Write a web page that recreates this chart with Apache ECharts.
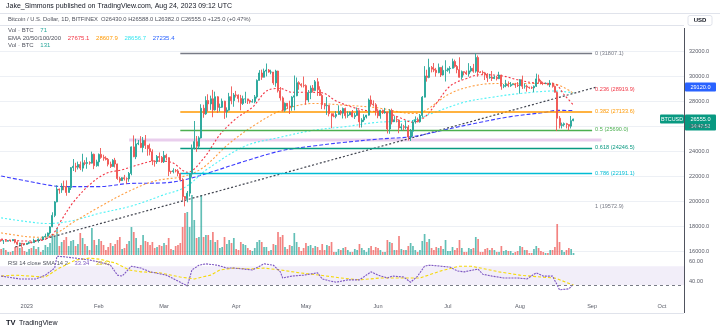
<!DOCTYPE html>
<html><head><meta charset="utf-8">
<script src="https://cdn.jsdelivr.net/npm/echarts@6/dist/echarts.min.js"></script>
<style>html,body{margin:0;padding:0;background:#fff}#c{width:720px;height:332px}</style>
</head><body><div id="c"></div>
<script>
// ---------- DATA ----------
const startDate = [2022, 11, 21];   // first category (UTC y, m0, d)
const dayCount = 294;
const tickDates  = ['2023-01-01','2023-02-01','2023-03-01','2023-04-01','2023-05-01','2023-06-01','2023-07-01','2023-08-01','2023-09-01','2023-10-01'];
const tickLabels = ['2023','Feb','Mar','Apr','May','Jun','Jul','Aug','Sep','Oct'];
const firstOpen = 16900;
const closes = [
16820,16830,16780,16840,16830,16920,16710,16540,16630,16600,16540,
16620,16680,16670,16850,16830,16950,16940,17130,17180,17440,17940,18850,19930,20950,20880,21170,21160,20680,21070,22670,22780,22710,22920,22630,23060,23010,23080,23030,23740,22830,23130,
23730,23490,23430,23330,22940,22760,23260,22960,21800,21630,21860,21790,21770,22200,24330,23540,24570,24630,24280,24840,24450,24190,23950,23200,23150,23560,23490,23140,
23650,23470,22360,22350,22430,22410,22200,21700,20360,20190,20630,22160,24200,24750,24380,25050,27420,26970,28040,27770,28180,27290,28340,27490,27500,27990,27140,27270,28350,28030,28480,
28470,28200,27800,28170,28170,28030,27920,27950,28330,29650,30240,29900,30390,30480,30320,30320,29450,30400,28820,28250,27260,27820,27590,27520,28310,28420,29470,29340,29250,29230,
28080,28680,29030,28840,29540,28900,28450,27700,27620,27650,26990,26800,26780,26930,27170,27030,27400,26830,26890,27110,26750,26850,27230,26330,26480,26720,26870,28080,27750,27700,27210,
26820,27250,27070,27120,25760,27240,26350,26500,26480,25850,25940,25900,25920,25120,25580,26330,26510,26340,26840,28310,30000,29890,30690,30550,30470,30270,30690,30080,30450,30470,
30590,30620,31160,30770,30510,29900,30350,30290,30170,30410,30620,30390,31480,30320,30290,30250,30140,29860,29910,29800,29910,29790,30080,29180,29230,29350,29220,29310,29350,29280,29230,
29710,29180,29190,29110,29070,29050,29180,29770,29570,29430,29400,29420,29300,29430,29170,28700,26620,26050,26100,26190,26120,25990,26430,26555];
const highs = [
16910,16860,16950,16870,16860,16950,16960,16780,16660,16640,16640,
16630,16770,16770,16990,16880,17010,16970,17170,17390,17480,17990,19100,19990,21260,21000,21420,21630,21650,21180,22720,23360,23060,23150,23160,23780,23270,23490,23180,23950,23790,23300,
23800,24240,23700,23580,23440,23150,23350,23450,22990,21940,21900,22090,21890,22320,24370,25250,24980,24880,25190,25120,25280,24480,24590,24130,23220,23680,23880,23600,
24000,23780,23490,22420,22620,22560,22550,22250,21830,20330,20800,22170,24520,26400,25200,25180,27740,27700,28380,28540,28430,28890,28750,28390,27790,28200,28020,27490,28650,29170,28640,
28810,28530,28490,28430,28740,28180,28100,28150,28480,29730,30470,30510,30590,31000,30560,30500,30300,30500,30420,29120,28370,27880,27840,28020,28390,30040,29880,29580,29420,29960,
29330,28880,29240,29280,29680,29830,29180,28560,27830,28320,27660,27000,27020,27190,27650,27280,27480,27470,27180,27150,27280,27040,27480,27220,26630,26940,26890,28200,28440,28050,27830,
27350,27290,27310,27450,27130,27350,27390,26790,26780,26530,26200,26090,26430,26070,25760,26460,26770,26680,26960,28400,30790,30500,31380,30800,31040,30650,31000,30700,30830,31260,
30660,30790,31390,31310,30880,31500,30440,30380,30440,31030,30800,30970,31807,31640,30390,30440,30330,30230,30170,30400,30050,29990,30340,30100,29360,29690,29570,29520,29400,29450,29520,
29760,30030,29410,29310,29130,29170,29240,30190,30110,29690,29540,29470,29450,29670,29470,29240,28770,26800,26270,26280,26250,26130,26800,26588];
const lows = [
16740,16560,16750,16790,16730,16790,16610,16470,16490,16330,16490,
16490,16550,16610,16660,16750,16670,16910,16910,17100,17150,17310,17910,18710,19900,20580,20650,20860,20420,20680,20880,22400,22310,22520,22470,22350,22860,22580,22900,23000,22550,22740,
22770,23380,23220,23250,22770,22640,22750,22680,21690,21470,21600,21640,21380,21540,22060,23510,23350,24470,24230,23890,24160,23620,23650,22870,22750,22970,23120,23050,
23040,23240,21990,22170,22210,22290,21980,21600,20060,19573,19900,20360,21880,24120,23930,24210,25000,26660,26890,27160,27290,26700,27230,27050,27160,27450,26570,26670,27230,27740,27540,
28280,27890,27260,27680,27830,27760,27790,27880,27820,28200,29640,29690,29890,29970,30260,30140,29290,29140,28680,28030,27160,27140,27360,26960,27220,27250,28380,28900,29090,29080,
27700,27900,28150,28680,28830,28410,28400,27350,27330,26890,26770,25820,26700,26620,26900,26860,26600,26600,26660,26860,26690,26560,26830,25870,25880,26330,26600,26830,27550,27570,26840,
26620,26580,26960,26980,25400,25380,26130,26330,26290,25420,25650,25650,25730,24840,24800,25200,26190,26290,26270,26660,28290,29550,29820,30290,30310,29950,30220,29920,30040,29560,
30340,30200,30600,30660,30220,29870,29710,30050,30090,29950,30290,30260,30260,29940,30260,30080,29680,29530,29780,29600,29750,29640,29750,28900,29030,29100,29100,29130,29260,29050,29120,
28590,28960,28990,28750,28970,28960,28710,29120,29400,29330,29270,29360,29260,29110,29070,28680,25600,25800,25800,25960,25810,25650,25800,26382];
const volumes = [
600,700,500,300,300,400,800,900,700,800,400,
300,600,700,900,600,800,300,500,1000,800,1200,2100,1800,2700,900,1300,1500,1800,900,1400,1500,900,1100,2200,1700,1100,900,500,2700,1500,1000,
1600,1400,1000,500,800,1200,900,1100,1500,1800,600,700,1100,1400,2800,2300,1700,700,1000,2000,1400,1300,1000,1300,700,800,1000,900,
1200,1000,1700,600,500,900,1000,1200,2800,4200,4300,2800,6000,3500,1700,1800,6000,1800,2000,2000,1500,2300,1300,1500,700,800,1800,1100,1500,1200,1700,
600,500,1300,1100,1000,700,500,400,700,1300,1500,1300,800,800,400,500,1100,1000,2300,1800,2000,800,600,1000,900,2200,1300,800,400,700,
1200,900,1000,700,900,800,500,1100,500,1000,900,1300,300,300,600,500,700,800,500,300,300,600,500,1100,700,500,300,700,900,500,800,
700,500,300,300,1500,1300,1200,500,500,1900,600,500,500,900,1200,900,500,300,500,1400,2100,1300,1600,700,500,800,700,900,600,1500,
400,400,800,500,700,1500,700,300,300,700,600,700,1800,1600,300,300,600,700,500,700,500,300,300,900,400,500,400,400,200,300,400,
900,800,500,500,200,200,600,900,700,400,300,200,200,500,500,800,3100,1300,500,300,500,700,600,200];
const ema20 = [['2022-12-21',16950],['2022-12-31',16800],['2023-01-07',16850],['2023-01-12',17300],['2023-01-16',18500],['2023-01-21',19900],['2023-01-28',21300],['2023-02-04',22200],['2023-02-11',22500],['2023-02-18',22900],['2023-02-25',23200],['2023-03-04',23100],['2023-03-11',22300],['2023-03-18',23400],['2023-03-25',25300],['2023-04-01',26600],['2023-04-08',27500],['2023-04-15',28900],['2023-04-20',29000],['2023-04-25',28700],['2023-05-01',28700],['2023-05-08',28650],['2023-05-14',28000],['2023-05-21',27500],['2023-05-28',27200],['2023-06-04',27100],['2023-06-10',26700],['2023-06-16',26300],['2023-06-21',26700],['2023-06-26',27800],['2023-07-02',29200],['2023-07-09',29800],['2023-07-15',30100],['2023-07-23',30050],['2023-07-31',29700],['2023-08-07',29450],['2023-08-16',29350],['2023-08-20',28500],['2023-08-24',27675.1]];
const ema50 = [['2022-12-21',17450],['2023-01-01',17150],['2023-01-08',17100],['2023-01-14',17450],['2023-01-21',18300],['2023-02-01',19500],['2023-02-13',20700],['2023-02-25',21600],['2023-03-10',22000],['2023-03-18',22700],['2023-03-29',24600],['2023-04-10',26200],['2023-04-20',27200],['2023-05-04',27800],['2023-05-19',27650],['2023-06-01',27450],['2023-06-16',27000],['2023-06-21',27200],['2023-07-02',28600],['2023-07-13',29250],['2023-07-23',29400],['2023-08-07',29400],['2023-08-16',29350],['2023-08-24',28607.9]];
const ema100 = [['2022-12-21',18650],['2023-01-01',18350],['2023-01-10',18200],['2023-01-20',18400],['2023-02-01',19000],['2023-02-15',19600],['2023-03-01',20500],['2023-03-10',21100],['2023-03-20',22600],['2023-04-05',24400],['2023-04-20',25100],['2023-05-04',25650],['2023-05-18',25950],['2023-06-01',26300],['2023-06-16',26450],['2023-06-24',27000],['2023-07-08',27900],['2023-07-20',28300],['2023-08-01',28600],['2023-08-16',28800],['2023-08-24',28656.7]];
const ema200 = [['2022-12-21',22000],['2023-01-01',21600],['2023-01-17',21150],['2023-02-01',21150],['2023-02-14',21400],['2023-03-01',21450],['2023-03-10',21700],['2023-03-21',22300],['2023-04-05',23200],['2023-04-20',24000],['2023-05-04',24400],['2023-05-18',24700],['2023-06-01',24950],['2023-06-16',25150],['2023-06-24',25450],['2023-07-01',25750],['2023-07-15',26300],['2023-07-28',26750],['2023-08-12',27100],['2023-08-17',27250],['2023-08-24',27235.4]];
const rsi = [['2022-12-21',49],['2022-12-29',43],['2023-01-05',43],['2023-01-09',51],['2023-01-13',66],['2023-01-14',91],['2023-01-17',90],['2023-01-22',87],['2023-01-28',83],['2023-02-01',79],['2023-02-06',72],['2023-02-09',51],['2023-02-11',49],['2023-02-15',70],['2023-02-19',66],['2023-02-23',58],['2023-03-02',51],['2023-03-08',36],['2023-03-11',28],['2023-03-13',62],['2023-03-16',72],['2023-03-19',75],['2023-03-24',72],['2023-03-28',66],['2023-03-31',66],['2023-04-08',62],['2023-04-13',75],['2023-04-17',72],['2023-04-20',58],['2023-04-21',45],['2023-04-25',49],['2023-04-30',51],['2023-05-06',56],['2023-05-08',43],['2023-05-11',39],['2023-05-14',36],['2023-05-19',41],['2023-05-24',41],['2023-05-29',58],['2023-06-01',51],['2023-06-05',45],['2023-06-07',49],['2023-06-12',47],['2023-06-15',36],['2023-06-18',49],['2023-06-21',70],['2023-06-23',72],['2023-06-28',70],['2023-07-02',68],['2023-07-05',60],['2023-07-08',58],['2023-07-14',64],['2023-07-16',53],['2023-07-20',49],['2023-07-25',45],['2023-07-31',45],['2023-08-04',43],['2023-08-08',56],['2023-08-11',49],['2023-08-15',49],['2023-08-17',30],['2023-08-18',20],['2023-08-22',22],['2023-08-24',32]];
const rsiMa = [['2022-12-21',49],['2022-12-27',51],['2023-01-09',47],['2023-01-15',66],['2023-01-22',83],['2023-01-28',87],['2023-02-01',85],['2023-02-08',77],['2023-02-14',62],['2023-02-19',58],['2023-02-27',56],['2023-03-08',47],['2023-03-14',43],['2023-03-21',51],['2023-03-25',62],['2023-03-31',66],['2023-04-07',64],['2023-04-13',66],['2023-04-20',62],['2023-04-28',56],['2023-05-07',51],['2023-05-16',45],['2023-05-24',41],['2023-06-02',45],['2023-06-10',45],['2023-06-19',45],['2023-06-28',60],['2023-07-06',70],['2023-07-11',70],['2023-07-15',66],['2023-07-23',58],['2023-08-01',51],['2023-08-10',47],['2023-08-16',45],['2023-08-24',30]];
const fibLevels = ['0','0.236','0.382','0.5','0.618','0.786','1'];
const fibPrices = [31807.1, 28919.9, 27133.6, 25690.0, 24246.5, 22191.1, 19572.9];
const fibSpan = ['2023-03-08','2023-09-01'];
const trendLine = [['2022-12-27',16320],['2023-09-03',29120]];
const pinkLine = [['2023-02-14',24880],['2023-09-05',24880]];
const rsiBand = [30, 70];
const rsiTickShown = [60, 40];
const volLegend = ['71', '131'];
const rsiLegend = ['33.34', '33.42'];

// ---------- BUILD ----------
const categories = [];
for (let i = 0; i < dayCount; i++) {
  const d = new Date(Date.UTC(startDate[0], startDate[1], startDate[2] + i));
  categories.push(d.toISOString().slice(0, 10));
}
const ix = d => categories.indexOf(d);
const pts = arr => arr.map(p => [ix(p[0]), p[1]]);
const ohlc = closes.map((c, i) => [i === 0 ? firstOpen : closes[i - 1], c, lows[i], highs[i]]);
const UP = '#26a69a', DN = '#ef5350';
const volData = volumes.map((v, i) => ({value: v, itemStyle: {color: ohlc[i][1] >= ohlc[i][0] ? 'rgba(38,166,154,0.72)' : 'rgba(239,83,80,0.72)'}}));
const FONT = 'Liberation Sans, Arial, sans-serif';
const fibColors = ['#787b86','#f23645','#ff9800','#4caf50','#089981','#00bcd4','#787b86'];
const fibLineColors = ['#787b86','rgba(0,0,0,0)','#ff9800','#4caf50','#089981','#00bcd4','rgba(0,0,0,0)'];
const fibMarks = fibPrices.map((p, k) => [
  {coord: [ix(fibSpan[0]), p], lineStyle: {color: fibLineColors[k], width: k === 2 ? 1.6 : 1.3, type: 'solid'},
   label: {show: true, position: 'end', distance: 3, formatter: fibLevels[k] + ' (' + p.toFixed(1) + ')', color: fibColors[k], fontSize: 5.6, fontFamily: FONT}},
  {coord: [ix(fibSpan[1]), p]}
]);
const emaLine = (data, color, type, z) => ({type: 'line', xAxisIndex: 0, yAxisIndex: 0, data: pts(data), smooth: 0.35, showSymbol: false, silent: true, z: z,
  lineStyle: {color: color, width: 1.1, type: type}});

const chart = echarts.init(document.getElementById('c'), null, {renderer: 'canvas'});
const hiddenCat = gi => ({type: 'category', gridIndex: gi, data: categories, boundaryGap: true, axisLine: {show: false}, axisTick: {show: false}, axisLabel: {show: false}, splitLine: {show: false}});
const rsiX = hiddenCat(2);
rsiX.axisLabel = {show: true, interval: (i, v) => tickDates.includes(v), formatter: v => tickLabels[tickDates.indexOf(v)] || '', fontSize: 5.6, color: '#5d606b', fontFamily: FONT, margin: 4.5};

const option = {
  animation: false,
  backgroundColor: '#ffffff',
  grid: [
    {left: 0, right: 36, top: 26, height: 250},
    {left: 0, right: 36, top: 175, height: 80},
    {left: 0, right: 36, top: 252, height: 47.25},
    {left: 0, right: 36, top: 251, height: 40}
  ],
  xAxis: [hiddenCat(0), hiddenCat(1), rsiX, hiddenCat(3)],
  yAxis: [
    {type: 'value', gridIndex: 0, position: 'right', min: 14000, max: 34000, interval: 2000,
     axisLine: {show: false}, axisTick: {show: false},
     axisLabel: {formatter: v => (v === 14000 || v === 34000) ? '' : v.toFixed(1), fontSize: 5.6, color: '#5d606b', fontFamily: FONT, margin: 5},
     splitLine: {show: true, showMinLine: false, showMaxLine: false, lineStyle: {color: '#edf0f5', width: 1}}},
    {type: 'value', gridIndex: 1, min: 0, max: 8000, show: false, splitLine: {show: false}},
    {type: 'value', gridIndex: 2, min: 0, max: 100, show: false, splitLine: {show: false}},
    {type: 'value', gridIndex: 3, position: 'right', min: 30, max: 70, interval: 10,
     axisLine: {show: false}, axisTick: {show: false}, splitLine: {show: false},
     axisLabel: {formatter: v => rsiTickShown.includes(v) ? v.toFixed(2) : '', fontSize: 5.6, color: '#5d606b', fontFamily: FONT, margin: 5}}
  ],
  series: [
    {type: 'bar', xAxisIndex: 1, yAxisIndex: 1, data: volData, barWidth: 1.7, silent: true, z: 1},
    {type: 'line', xAxisIndex: 0, yAxisIndex: 0, data: [], silent: true, z: 2,
     markLine: {silent: true, symbol: ['none', 'none'], data: fibMarks, animation: false}},
    {type: 'line', xAxisIndex: 0, yAxisIndex: 0, data: pts(pinkLine), showSymbol: false, silent: true, z: 2,
     lineStyle: {color: 'rgba(206,147,216,0.45)', width: 3}},
    {type: 'line', xAxisIndex: 0, yAxisIndex: 0, data: pts(trendLine), showSymbol: false, silent: true, z: 3,
     lineStyle: {color: '#434651', width: 1.2, type: [2, 2]}},
    emaLine(ema200, '#3d3dff', [4, 2], 4),
    emaLine(ema100, '#4ff2f5', [2, 2], 4),
    emaLine(ema50, '#ff9f43', [2, 2], 4),
    emaLine(ema20, '#f23645', [2, 2], 4),
    {type: 'candlestick', xAxisIndex: 0, yAxisIndex: 0, data: ohlc, barWidth: 1.5, silent: true, z: 5,
     itemStyle: {color: UP, color0: DN, borderColor: UP, borderColor0: DN, borderWidth: 0.9}},
    {type: 'line', xAxisIndex: 2, yAxisIndex: 2, data: pts(rsiMa), showSymbol: false, silent: true, z: 3,
     lineStyle: {color: '#f5d90a', width: 1.1, type: [3, 2]}},
    {type: 'line', xAxisIndex: 2, yAxisIndex: 2, data: pts(rsi), showSymbol: false, silent: true, z: 4,
     lineStyle: {color: '#7e57c2', width: 1.1, type: [2, 1]},
     markArea: {silent: true, itemStyle: {color: 'rgba(126,87,194,0.1)'}, data: [[{yAxis: rsiBand[0]}, {yAxis: rsiBand[1]}]]},
     markLine: {silent: true, symbol: ['none', 'none'], label: {show: false}, lineStyle: {color: '#787b86', type: [3, 3], width: 1},
       data: [{yAxis: rsiBand[0]}]}}
  ]
};
chart.setOption(option);

// ---------- TEXT / DECOR ----------
const last = closes.length - 1;
const O = closes[last - 1], C = closes[last], H = highs[last], L = lows[last];
const chg = C - O;
const yCur = chart.convertToPixel({yAxisIndex: 0}, C);
const yTr = chart.convertToPixel({yAxisIndex: 0}, trendLine[1][1]);
const lastVal = a => a[a.length - 1][1].toFixed(1);
const t = (x, y, text, size, fill, extra) => ({type: 'text', x: x, y: y, style: Object.assign({text: text, fontSize: size, fill: fill, fontFamily: FONT, verticalAlign: 'middle'}, extra || {})});
const graphic = [
  t(6, 6.5, 'Jake_Simmons published on TradingView.com, Aug 24, 2023 09:12 UTC', 7, '#131722'),
  {type: 'line', shape: {x1: 0, y1: 13.5, x2: 720, y2: 13.5}, style: {stroke: '#e0e3eb', lineWidth: 1}},
  {type: 'line', shape: {x1: 0, y1: 25.5, x2: 684, y2: 25.5}, style: {stroke: '#e0e3eb', lineWidth: 1}},
  t(8, 19.5, 'Bitcoin / U.S. Dollar, 1D, BITFINEX  O' + O.toFixed(1) + ' H' + H.toFixed(1) + ' L' + L.toFixed(1) + ' C' + C.toFixed(1) + ' ' + (chg >= 0 ? '+' : '') + chg.toFixed(1) + ' (' + (chg >= 0 ? '+' : '') + (chg / O * 100).toFixed(2) + '%)', 5.8, '#50535e'),
  {type: 'text', x: 8, y: 30.5, style: {text: '{a|Vol · BTC}  {b|' + volLegend[0] + '}', fontFamily: FONT, verticalAlign: 'middle', rich: {a: {fontSize: 6, fill: '#50535e'}, b: {fontSize: 6, fill: UP}}}},
  {type: 'text', x: 8, y: 38, style: {text: '{a|EMA 20/50/100/200}  {r|' + lastVal(ema20) + '}  {o|' + lastVal(ema50) + '}  {c|' + lastVal(ema100) + '}  {b|' + lastVal(ema200) + '}',
    fontFamily: FONT, verticalAlign: 'middle', rich: {a: {fontSize: 6, fill: '#50535e'}, r: {fontSize: 6, fill: '#f23645'}, o: {fontSize: 6, fill: '#ff9800'}, c: {fontSize: 6, fill: '#38e6f0'}, b: {fontSize: 6, fill: '#2962ff'}}}},
  {type: 'text', x: 8, y: 45.5, style: {text: '{a|Vol · BTC}  {b|' + volLegend[1] + '}', fontFamily: FONT, verticalAlign: 'middle', rich: {a: {fontSize: 6, fill: '#50535e'}, b: {fontSize: 6, fill: UP}}}},
  {type: 'rect', shape: {x: 688, y: 15.5, width: 24, height: 10, r: 2}, style: {fill: '#fff', stroke: '#e0e3eb', lineWidth: 1}},
  t(700, 20.5, 'USD', 6, '#131722', {align: 'center', fontWeight: 'bold'}),
  {type: 'line', shape: {x1: 684.5, y1: 28, x2: 684.5, y2: 313}, style: {stroke: '#50535e', lineWidth: 1}},
  {type: 'line', shape: {x1: 0, y1: 313.5, x2: 684, y2: 313.5}, style: {stroke: '#e0e3eb', lineWidth: 1}},
  {type: 'text', x: 6, y: 323, style: {text: '{a|TV} {b|TradingView}', fontFamily: FONT, verticalAlign: 'middle', rich: {a: {fontSize: 7.5, fontWeight: 'bold', fill: '#131722'}, b: {fontSize: 7, fill: '#131722'}}}},
  {type: 'text', x: 8, y: 263.5, style: {text: '{a|RSI 14 close SMA 14 2}  {p|' + rsiLegend[0] + '}  {y|' + rsiLegend[1] + '}', fontFamily: FONT, verticalAlign: 'middle', rich: {a: {fontSize: 5.8, fill: '#50535e'}, p: {fontSize: 5.8, fill: '#7e57c2'}, y: {fontSize: 5.8, fill: '#d4b800'}}}},
  {type: 'rect', shape: {x: 685, y: yTr - 4.5, width: 31, height: 9, r: 1}, style: {fill: '#2962ff'}},
  t(700.5, yTr, trendLine[1][1].toFixed(1), 5.6, '#fff', {align: 'center'}),
  {type: 'rect', shape: {x: 685, y: yCur - 4.5, width: 31, height: 16, r: 1}, style: {fill: '#089981'}},
  t(700.5, yCur, C.toFixed(1), 5.6, '#fff', {align: 'center'}),
  t(700.5, yCur + 7.5, '14:47:52', 5, '#e0f2f1', {align: 'center'}),
  {type: 'rect', shape: {x: 660, y: yCur - 4.5, width: 24, height: 9, r: 1}, style: {fill: '#089981'}},
  t(672, yCur, 'BTCUSD', 5.4, '#fff', {align: 'center'})
];
chart.setOption({graphic: graphic});
</script></body></html>
